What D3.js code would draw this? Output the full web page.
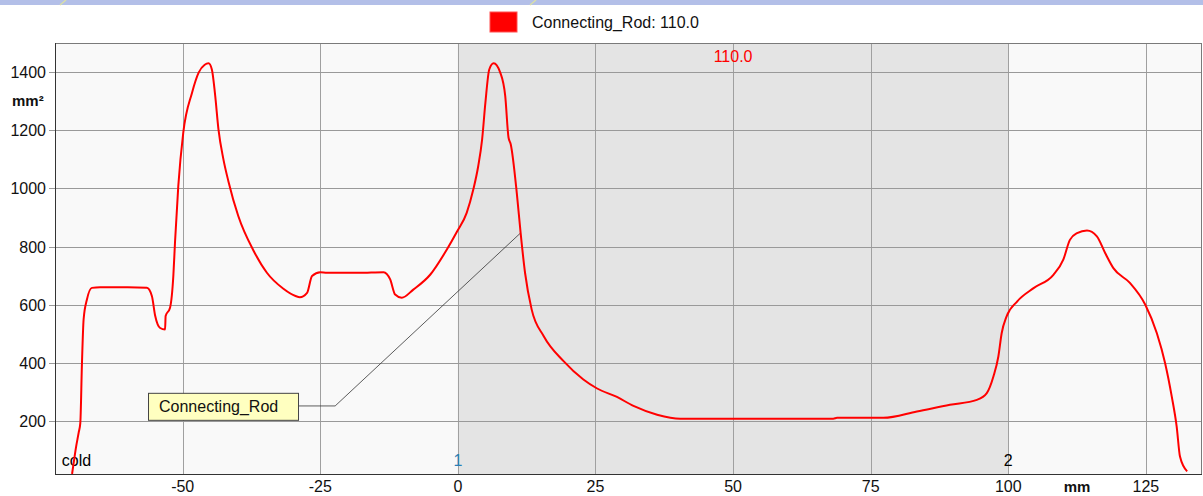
<!DOCTYPE html>
<html>
<head>
<meta charset="utf-8">
<script src="https://cdn.jsdelivr.net/npm/d3@7"></script>
<style>
  body { margin: 0; background: #fff; }
  svg { display: block; font-family: "Liberation Sans", Arial, sans-serif; }
</style>
</head>
<body>
<div id="chart"></div>
<script>
// position along the rod (mm) and cross-section area (mm²)
var positions = [-70.1, -69.7, -69.4, -68.9, -68.6, -68.3, -68.0, -67.4, -66.5, -65, -60, -56.5,
	-55.6, -55.0, -54.1, -53.2, -53.1, -52.3, -51.7, -51.4, -50.8, -49.9, -48.3, -47.1, -46.0,
	-45.3, -44.7, -44.1, -43.5, -42.6, -41.7, -39.9, -37.1, -34.7, -31.7, -29.5, -28.7, -27.4, -26.5, -25.0,
	-23.8, -18, -13.5, -12.3, -11.4, -10.2, -8.1, -5.0, -2.0, -0.2, 1.6, 2.8, 3.7, 4.4, 5.0,
	5.7, 6.5, 7.7, 8.6, 9.2, 9.6, 10.7, 11.4, 12.2, 13.4, 15.6, 19.2, 22.8, 25.3, 28.9, 31.9,
	36.2, 40.4, 55, 68.2, 68.9, 77.3, 83.4, 89.4, 94.3, 96.1, 97.3, 98.2, 98.8, 99.7, 101.6,
	104.6, 108.2, 110.0, 111.2, 112.5, 114.3, 116.1, 117.6, 119.1, 122.1, 124.9, 127.0, 128.5,
	129.7, 130.6, 131.2, 132.5];
var areas = [18, 70, 108, 160, 194, 400, 550, 618, 658, 660, 660, 658,
	630, 562, 520, 515, 561, 590, 699, 813, 1008, 1191, 1329, 1398, 1425,
	1430, 1409, 1320, 1203, 1100, 1025, 905, 785, 710, 655, 630, 626, 641, 699, 712,
	710, 710, 712, 687, 635, 624, 652, 704, 790, 850, 916, 996, 1077, 1168, 1295,
	1409, 1430, 1398, 1318, 1175, 1152, 985, 847, 710, 584, 492, 406, 343, 312, 283, 252,
	222, 208, 208, 208, 211, 211, 233, 256, 273, 296, 353, 422, 502, 560, 611,
	657, 703, 755, 823, 846, 855, 835, 778, 726, 675, 600, 502, 399,
	285, 181, 78, 27];

var xTicks = [-50, -25, 0, 25, 50, 75, 100, 125];
var yTicks = [200, 400, 600, 800, 1000, 1200, 1400];
var shadedRange = [0, 100];
var markerLabels = ["cold", "1", "2"];
var markerPositions = [-69.3, 0, 100];
var markerColors = ["#000", "#2a7fb8", "#000"];
var seriesName = "Connecting_Rod";
var cursorValue = "110.0";
var cursorAt = 50;
// annotation: box left edge, elbow and target in data units
var noteBox = [-56.3, 249];
var noteElbow = [-22.3, 252];
var noteTarget = [11.4, 847];

var width = 1203, height = 496;
var plot = { left: 55, top: 43, right: 1202, bottom: 474 };

var svg = d3.select("#chart").append("svg")
	.attr("width", width)
	.attr("height", height);

// window strip at the top
svg.append("rect").attr("x", 0).attr("y", 0).attr("width", width).attr("height", 5).attr("fill", "#b3bfe8");
svg.append("line").attr("x1", 60).attr("y1", 5).attr("x2", 66).attr("y2", 0).attr("stroke", "#d9dfa8").attr("stroke-width", 1.5);
svg.append("line").attr("x1", 530).attr("y1", 5).attr("x2", 536).attr("y2", 0).attr("stroke", "#d9dfa8").attr("stroke-width", 1.5);

var x = d3.scaleLinear().domain([-73.2, 135.2]).range([plot.left, plot.right]);
var y = d3.scaleLinear().domain([18, 1500]).range([plot.bottom, plot.top]);

svg.append("rect")
	.attr("x", plot.left).attr("y", plot.top)
	.attr("width", plot.right - plot.left).attr("height", plot.bottom - plot.top)
	.attr("fill", "#f9f9f9");

svg.append("rect")
	.attr("x", x(shadedRange[0])).attr("y", plot.top)
	.attr("width", x(shadedRange[1]) - x(shadedRange[0])).attr("height", plot.bottom - plot.top)
	.attr("fill", "#e4e4e4");

// grid
svg.selectAll(".vgrid").data(xTicks).enter().append("line")
	.attr("x1", function(d) { return Math.round(x(d)) + 0.5; })
	.attr("x2", function(d) { return Math.round(x(d)) + 0.5; })
	.attr("y1", plot.top).attr("y2", plot.bottom)
	.attr("stroke", "#a0a0a0");

svg.selectAll(".hgrid").data(yTicks).enter().append("line")
	.attr("x1", plot.left - 6).attr("x2", plot.right)
	.attr("y1", function(d) { return Math.round(y(d)) + 0.5; })
	.attr("y2", function(d) { return Math.round(y(d)) + 0.5; })
	.attr("stroke", "#999");

// border
svg.append("rect")
	.attr("x", plot.left + 0.5).attr("y", plot.top + 0.5)
	.attr("width", plot.right - plot.left - 1).attr("height", plot.bottom - plot.top)
	.attr("fill", "none").attr("stroke", "#7a7a7a");
svg.append("line").attr("x1", plot.left + 0.5).attr("x2", plot.left + 0.5)
	.attr("y1", plot.top).attr("y2", plot.bottom + 1).attr("stroke", "#333");
svg.append("line").attr("x1", plot.left).attr("x2", plot.right)
	.attr("y1", plot.bottom + 0.5).attr("y2", plot.bottom + 0.5).attr("stroke", "#333");

// tick labels
svg.selectAll(".ylab").data(yTicks).enter().append("text")
	.attr("x", 46).attr("y", function(d) { return y(d) + 6; })
	.attr("text-anchor", "end").attr("font-size", 16).attr("fill", "#111")
	.text(function(d) { return d; });

svg.selectAll(".xlab").data(xTicks).enter().append("text")
	.attr("x", function(d) { return x(d); }).attr("y", 492)
	.attr("text-anchor", "middle").attr("font-size", 16).attr("fill", "#111")
	.text(function(d) { return d; });

svg.append("text").attr("x", 12).attr("y", 106)
	.attr("font-size", 15).attr("font-weight", "bold").attr("fill", "#111").text("mm²");
svg.append("text").attr("x", 1077).attr("y", 492).attr("text-anchor", "middle")
	.attr("font-size", 15).attr("font-weight", "bold").attr("fill", "#111").text("mm");

// position markers
svg.selectAll(".marker").data(markerLabels).enter().append("text")
	.attr("x", function(d, i) { return x(markerPositions[i]); })
	.attr("y", 466)
	.attr("text-anchor", "middle").attr("font-size", 16)
	.attr("fill", function(d, i) { return markerColors[i]; })
	.text(function(d) { return d; });

// annotation leader and box
svg.append("path")
	.attr("d", "M" + (x(noteBox[0]) + 150) + "," + y(noteElbow[1]) +
		"L" + x(noteElbow[0]) + "," + y(noteElbow[1]) +
		"L" + x(noteTarget[0]) + "," + y(noteTarget[1]))
	.attr("fill", "none").attr("stroke", "#333").attr("stroke-width", 0.8);

// the curve
var line = d3.line()
	.x(function(d, i) { return x(positions[i]); })
	.y(function(d) { return y(d); })
	.curve(d3.curveMonotoneX);

svg.append("path")
	.datum(areas)
	.attr("d", line)
	.attr("fill", "none")
	.attr("stroke", "#ff0000")
	.attr("stroke-width", 2);

svg.append("rect")
	.attr("x", x(noteBox[0]) + 0.5).attr("y", y(noteBox[1]) - 13.5)
	.attr("width", 150).attr("height", 27)
	.attr("fill", "#ffffc0").attr("stroke", "#444");
svg.append("text")
	.attr("x", x(noteBox[0]) + 11).attr("y", y(noteBox[1]) + 5.5)
	.attr("font-size", 16).attr("fill", "#111").text(seriesName);

// cursor value
svg.append("text").attr("x", x(cursorAt)).attr("y", 62)
	.attr("text-anchor", "middle").attr("font-size", 16).attr("fill", "#ff0000")
	.text(cursorValue);

// legend
svg.append("rect").attr("x", 490).attr("y", 12).attr("width", 27).attr("height", 20)
	.attr("fill", "#ff0000").attr("stroke", "#ff5050");
svg.append("text").attr("x", 532).attr("y", 28)
	.attr("font-size", 16).attr("fill", "#111")
	.text(seriesName + ": " + cursorValue);
</script>
</body>
</html>
